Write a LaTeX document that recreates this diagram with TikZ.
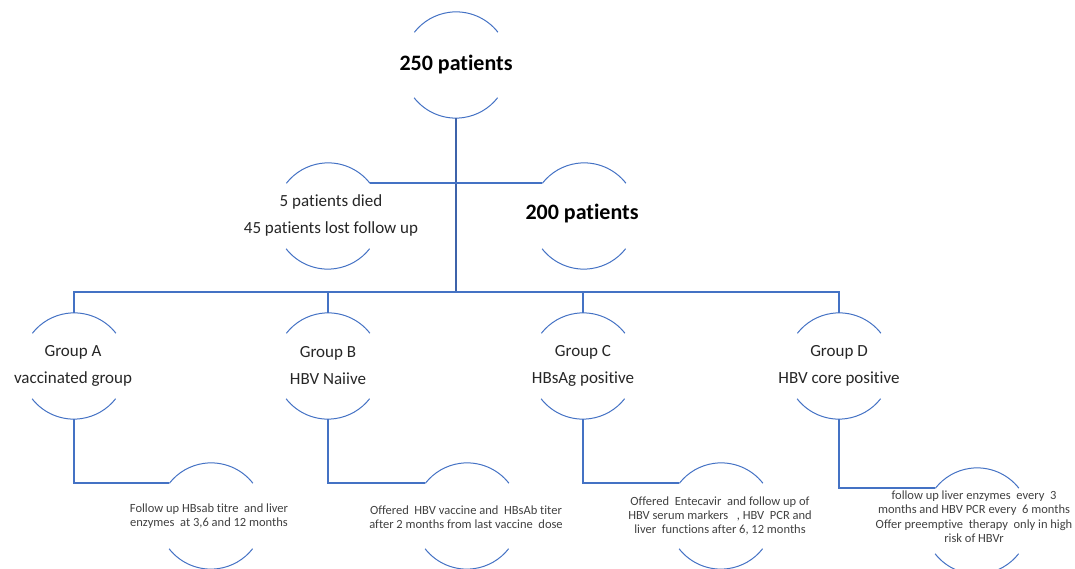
\documentclass[tikz,border=0pt]{standalone}
\usepackage{fontspec}
\setmainfont{Carlito}[Ligatures=CommonOff]
\definecolor{lineblue}{HTML}{4472C4}
\definecolor{trunkblue}{HTML}{3D63AA}
\begin{document}
\begin{tikzpicture}[x=1pt,y=1pt,
  ring/.style={circle,minimum size=106pt,inner sep=0pt,draw=none},
  arcline/.style={draw=lineblue,line width=1pt},
  conn/.style={draw=lineblue,line width=1.5pt},
  trunk/.style={draw=trunkblue,line width=2.2pt},
  bigtxt/.style={font=\fontsize{22}{26}\selectfont\bfseries,inner sep=0pt},
  midtxt/.style={font=\fontsize{17}{27}\selectfont,align=center,inner sep=0pt,text=black!85},
  smalltxt/.style={font=\fontsize{12.5}{14}\selectfont,align=center,inner sep=0pt,text=black!75}
]
\useasboundingbox (0,0) rectangle (1075,569);
% y' = 569 - y
\node[ring] (top) at (456,504) {};
\node[ring] (lost) at (328,353) {};
\node[ring] (rem) at (584,353) {};
\node[ring] (gA) at (74,203) {};
\node[ring] (gB) at (328,203) {};
\node[ring] (gC) at (583,203) {};
\node[ring] (gD) at (839,203) {};
\node[ring] (fA) at (211,53) {};
\node[ring] (fB) at (467,53) {};
\node[ring] (fC) at (721,53) {};
\node[ring] (fD) at (977,48) {};
\coordinate (bus) at (456,277);

% arcs
\foreach \n in {top,lost,rem,gA,gB,gC,gD,fA,fB,fC,fD}{
  \draw[arcline] (\n.38) arc[start angle=38,end angle=142,radius=53pt];
  \draw[arcline] (\n.218) arc[start angle=218,end angle=322,radius=53pt];
}

% texts
\node[bigtxt] (t0) at (456,504) {250 patients};
\node[midtxt] (t1) at (331,354) {5 patients died\\45 patients lost follow up};
\node[bigtxt] (t2) at (582,355) {200 patients};
\node[midtxt] (tA) at (73,203) {Group A\\vaccinated group};
\node[midtxt] (tB) at (328,203) {Group B\\HBV Naiive};
\node[midtxt] (tC) at (583,203) {Group C\\HBsAg positive};
\node[midtxt] (tD) at (839,203) {Group D\\HBV core positive};
\node[smalltxt] (uA) at (209,53) {Follow up HBsab titre\ \ and liver\\enzymes\ \ at 3,6 and 12 months};
\node[smalltxt] (uB) at (466,52) {Offered\ \ HBV vaccine and\ \ HBsAb titer\\after 2 months from last vaccine\ \ dose};
\node[smalltxt] (uC) at (720,53) {Offered\ \ Entecavir\ \ and follow up of\\HBV serum markers\ \ \ , HBV\ \ PCR and\\liver\ \ functions after 6, 12 months};
\node[smalltxt] (uD) at (974,52) {follow up liver enzymes\ \ every\ \ 3\\months and HBV PCR every\ \ 6 months\\[1pt]Offer preemptive\ \ therapy\ \ only in high\\risk of HBVr};

% connectors
\draw[trunk] (top.south) -- (top.south |- bus);
\draw[conn] (lost.38) -- (rem.142);
\draw[conn] (gA.north) -- (gA.north |- bus) -- (gD.north |- bus) -- (gD.north);
\draw[conn] (gB.north) -- (gB.north |- bus);
\draw[conn] (gC.north) -- (gC.north |- bus);
\draw[conn] (gA.south) |- (fA.142);
\draw[conn] (gB.south) |- (fB.142);
\draw[conn] (gC.south) |- (fC.142);
\draw[conn] (gD.south) |- (fD.142);
\end{tikzpicture}
\end{document}
